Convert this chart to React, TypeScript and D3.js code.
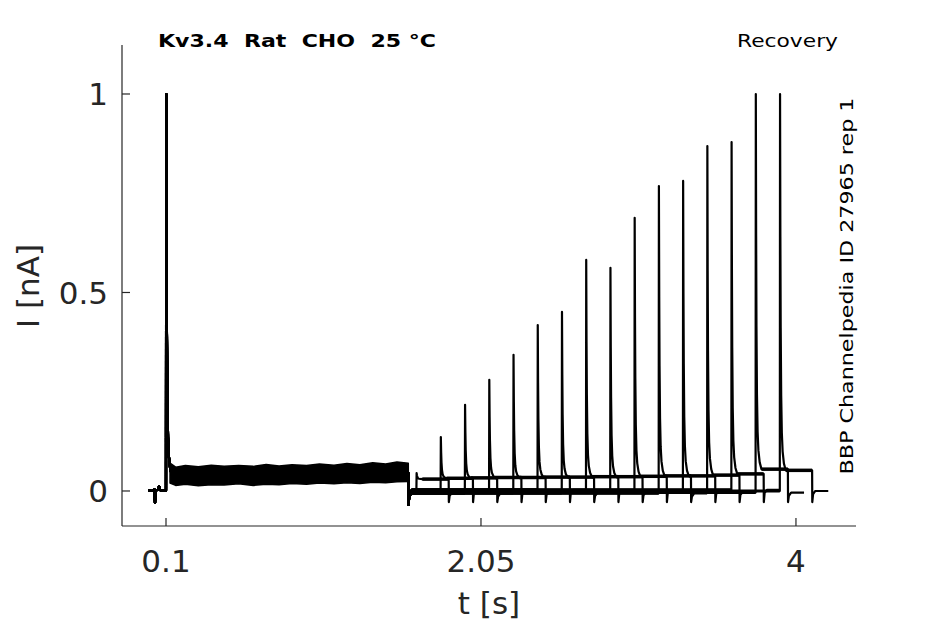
import React from 'react';
import * as d3 from 'd3';

const W = 945;
const H = 624;

// Axis ticks
const xTicks = [0.1, 2.05, 4];
const xTickLabels = ['0.1', '2.05', '4'];
const yTicks = [0, 0.5, 1];
const yTickLabels = ['0', '0.5', '1'];

// Pre-pulse baseline (s, nA)
const preTimes = [-0.01, 0.02, 0.028, 0.032, 0.036, 0.05, 0.057, 0.064, 0.098];
const preValues = [0.001, 0.0, 0.004, -0.03, 0.002, 0.003, 0.012, 0.002, 0.001];

// First pulse
const firstPulseStart = 0.1;
const firstPulseEnd = 1.6;
const firstPeak = 1.0;
const firstPlateau = 0.04;

// Noisy band during the first pulse (envelope of overlapping sweeps)
const bandTimes = [0.125, 0.16, 0.22, 0.3, 0.38, 0.46, 0.55, 0.64, 0.72, 0.8, 0.88, 0.97, 1.05, 1.14, 1.22, 1.3, 1.38, 1.46, 1.53, 1.6];
const bandLow = [0.02, 0.014, 0.017, 0.013, 0.016, 0.015, 0.018, 0.014, 0.017, 0.016, 0.019, 0.017, 0.02, 0.018, 0.021, 0.019, 0.022, 0.021, 0.023, 0.024];
const bandHigh = [0.07, 0.06, 0.064, 0.061, 0.065, 0.062, 0.064, 0.062, 0.067, 0.063, 0.066, 0.064, 0.068, 0.065, 0.069, 0.066, 0.071, 0.068, 0.073, 0.07];

// Spike shape (offset after peak, s / fraction of peak above plateau)
const riseTime = 0.0015;
const decayTimes = [0, 0.002, 0.004, 0.007, 0.011, 0.016, 0.024, 0.035];
const decayFractions = [1, 0.62, 0.38, 0.2, 0.1, 0.05, 0.018, 0];

// After the first pulse: dip then baseline (offset from pulse end)
const offDipTimes = [0, 0.001, 0.006, 0.02];
const offDipValues = [0.045, -0.035, -0.015, 0];

// Second (test) pulse of each sweep
const sweepStarts = [1.65, 1.8, 1.95, 2.1, 2.25, 2.4, 2.55, 2.7, 2.85, 3.0, 3.15, 3.3, 3.45, 3.6, 3.75, 3.9];
const sweepPeaks = [0.045, 0.136, 0.217, 0.28, 0.343, 0.418, 0.451, 0.582, 0.562, 0.688, 0.768, 0.781, 0.869, 0.879, 1.0, 1.0];
const sweepPlateaus = [0.03, 0.032, 0.033, 0.034, 0.034, 0.035, 0.035, 0.036, 0.036, 0.037, 0.038, 0.038, 0.04, 0.043, 0.055, 0.052];
const sweepBaselines = [-0.004, 0.002, -0.006, 0.0, -0.002, 0.003, -0.005, 0.001, -0.003, 0.002, -0.006, 0.0, -0.002, 0.003, -0.004, 0.0];
const testPulseDuration = 0.2;
const sweepTail = 0.1;

const x = d3.scaleLinear().domain([-0.1724, 4.3717]).range([122, 856]);
const y = d3.scaleLinear().domain([-0.0882, 1.1234]).range([526, 45]);

function spike(pts: [number, number][], t0: number, base: number, peak: number, plateau: number) {
  pts.push([t0, base]);
  decayTimes.forEach((dt, i) => {
    pts.push([t0 + riseTime + dt, plateau + (peak - plateau) * decayFractions[i]]);
  });
}

function sweepPoints(k: number): [number, number][] {
  const pts: [number, number][] = [];
  const base = sweepBaselines[k];
  preTimes.forEach((t, i) => pts.push([t, preValues[i]]));
  spike(pts, firstPulseStart, preValues[preValues.length - 1], firstPeak, firstPlateau);
  pts.push([firstPulseEnd, firstPlateau]);
  offDipTimes.forEach((dt, i) => pts.push([firstPulseEnd + dt, i === offDipTimes.length - 1 ? base : offDipValues[i]]));
  const s = sweepStarts[k];
  spike(pts, s, base, sweepPeaks[k], sweepPlateaus[k]);
  const e = s + testPulseDuration;
  pts.push([e, sweepPlateaus[k]]);
  pts.push([e + 0.001, -0.028]);
  pts.push([e + 0.006, base - 0.008]);
  pts.push([e + 0.02, base]);
  pts.push([e + sweepTail, base]);
  return pts;
}

// Plateau (noisy, thick) parts of each sweep
function plateauPoints(k: number): [number, number][] {
  const s = sweepStarts[k];
  const t1 = s + riseTime + decayTimes[decayTimes.length - 1];
  return [
    [t1, sweepPlateaus[k]],
    [s + testPulseDuration, sweepPlateaus[k]],
  ];
}
function baselinePoints(k: number): [number, number][] {
  return [
    [firstPulseEnd + 0.02, sweepBaselines[k]],
    [sweepStarts[k], sweepBaselines[k]],
  ];
}

const line = d3
  .line<[number, number]>()
  .x((d) => x(d[0]))
  .y((d) => y(d[1]));

const band = d3
  .area<number>()
  .x((_, i) => x(bandTimes[i]))
  .y0((_, i) => y(bandLow[i]))
  .y1((_, i) => y(bandHigh[i]));

const axisColor = '#262626';
const font = 'DejaVu Sans, sans-serif';

export default function App() {
  return (
    <svg
      width={W}
      height={H}
      viewBox={`0 0 ${W} ${H}`}
      style={{ position: 'absolute', left: 0, top: 0, background: '#fff' }}
    >
      <rect x={0} y={0} width={W} height={H} fill="#fff" />
      {/* traces */}
      <path d={band(bandTimes) || ''} fill="#000" stroke="#000" strokeWidth={1.5} strokeLinejoin="round" />
      {sweepStarts.map((_, k) => (
        <g key={k}>
          <path
            d={line(sweepPoints(k)) || ''}
            fill="none"
            stroke="#000"
            strokeWidth={2.2}
            strokeLinejoin="round"
          />
          <path d={line(plateauPoints(k)) || ''} fill="none" stroke="#000" strokeWidth={3.5} />
          <path d={line(baselinePoints(k)) || ''} fill="none" stroke="#000" strokeWidth={3} />
        </g>
      ))}
      {/* axes */}
      <line x1={x.range()[0]} x2={x.range()[0]} y1={y.range()[1]} y2={y.range()[0]} stroke={axisColor} strokeWidth={1.2} />
      <line x1={x.range()[0]} x2={x.range()[1]} y1={y.range()[0]} y2={y.range()[0]} stroke={axisColor} strokeWidth={1.2} />
      {xTicks.map((t, i) => (
        <g key={`xt${i}`}>
          <line x1={x(t)} x2={x(t)} y1={y.range()[0]} y2={y.range()[0] - 8} stroke={axisColor} strokeWidth={1.2} />
          <text x={x(t)} y={572} textAnchor="middle" fontFamily={font} fontSize={31} fill={axisColor}>
            {xTickLabels[i]}
          </text>
        </g>
      ))}
      {yTicks.map((t, i) => (
        <g key={`yt${i}`}>
          <line x1={x.range()[0]} x2={x.range()[0] + 8} y1={y(t)} y2={y(t)} stroke={axisColor} strokeWidth={1.2} />
          <text x={108} y={y(t) + 11.5} textAnchor="end" fontFamily={font} fontSize={31} fill={axisColor}>
            {yTickLabels[i]}
          </text>
        </g>
      ))}
      {/* axis labels */}
      <text x={489} y={614} textAnchor="middle" fontFamily={font} fontSize={31} fill={axisColor}>
        t [s]
      </text>
      <text
        transform="translate(39,286) rotate(-90)"
        textAnchor="middle"
        fontFamily={font}
        fontSize={31}
        fill={axisColor}
      >
        I [nA]
      </text>
      {/* titles */}
      <text
        x={158}
        y={47}
        fontFamily={font}
        fontSize={18}
        fontWeight="bold"
        fill="#000"
        textLength={278}
        lengthAdjust="spacingAndGlyphs"
        style={{ whiteSpace: 'pre' }}
      >
        {'Kv3.4  Rat  CHO  25 °C'}
      </text>
      <text x={737} y={47} fontFamily={font} fontSize={18} fill="#000" textLength={101} lengthAdjust="spacingAndGlyphs">
        Recovery
      </text>
      <text
        transform="translate(853,286) rotate(-90)"
        textAnchor="middle"
        fontFamily={font}
        fontSize={18}
        fill="#000"
        textLength={377}
        lengthAdjust="spacingAndGlyphs"
      >
        BBP Channelpedia ID 27965 rep 1
      </text>
    </svg>
  );
}
